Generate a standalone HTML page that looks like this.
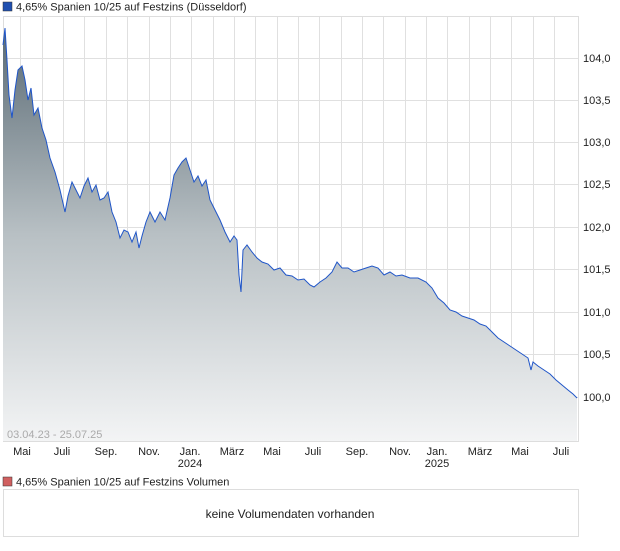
<!DOCTYPE html>
<html><head><meta charset="utf-8"><style>
body{margin:0;background:#fff;font-family:"Liberation Sans",sans-serif;}
</style></head><body>
<svg width="620" height="546" xmlns="http://www.w3.org/2000/svg" font-family="Liberation Sans, sans-serif">
<defs><linearGradient id="g" x1="0" y1="0" x2="0" y2="1">
<stop offset="0" stop-color="#5a6a74"/><stop offset="0.5" stop-color="#b8c0c4"/><stop offset="1" stop-color="#f3f4f5"/></linearGradient></defs>
<rect x="3" y="2" width="9" height="9" fill="#1f4fb0" stroke="#333" stroke-width="0.5"/>
<text x="16" y="10.5" font-size="11" fill="#222">4,65% Spanien 10/25 auf Festzins (Düsseldorf)</text>
<rect x="3.5" y="16.5" width="575" height="425" fill="#fff" stroke="#ddd"/>
<g stroke="#e0e0e0" stroke-width="1">
<line x1="3" y1="58.5" x2="578" y2="58.5"/><line x1="3" y1="100.5" x2="578" y2="100.5"/><line x1="3" y1="142.5" x2="578" y2="142.5"/><line x1="3" y1="184.5" x2="578" y2="184.5"/><line x1="3" y1="227.5" x2="578" y2="227.5"/><line x1="3" y1="269.5" x2="578" y2="269.5"/><line x1="3" y1="312.5" x2="578" y2="312.5"/><line x1="3" y1="354.5" x2="578" y2="354.5"/><line x1="3" y1="397.5" x2="578" y2="397.5"/>
<line x1="20.5" y1="17" x2="20.5" y2="441"/><line x1="42.5" y1="17" x2="42.5" y2="441"/><line x1="63.5" y1="17" x2="63.5" y2="441"/><line x1="84.5" y1="17" x2="84.5" y2="441"/><line x1="106.5" y1="17" x2="106.5" y2="441"/><line x1="127.5" y1="17" x2="127.5" y2="441"/><line x1="149.5" y1="17" x2="149.5" y2="441"/><line x1="170.5" y1="17" x2="170.5" y2="441"/><line x1="191.5" y1="17" x2="191.5" y2="441"/><line x1="213.5" y1="17" x2="213.5" y2="441"/><line x1="234.5" y1="17" x2="234.5" y2="441"/><line x1="255.5" y1="17" x2="255.5" y2="441"/><line x1="277.5" y1="17" x2="277.5" y2="441"/><line x1="298.5" y1="17" x2="298.5" y2="441"/><line x1="319.5" y1="17" x2="319.5" y2="441"/><line x1="341.5" y1="17" x2="341.5" y2="441"/><line x1="362.5" y1="17" x2="362.5" y2="441"/><line x1="383.5" y1="17" x2="383.5" y2="441"/><line x1="405.5" y1="17" x2="405.5" y2="441"/><line x1="426.5" y1="17" x2="426.5" y2="441"/><line x1="447.5" y1="17" x2="447.5" y2="441"/><line x1="469.5" y1="17" x2="469.5" y2="441"/><line x1="490.5" y1="17" x2="490.5" y2="441"/><line x1="511.5" y1="17" x2="511.5" y2="441"/><line x1="533.5" y1="17" x2="533.5" y2="441"/><line x1="554.5" y1="17" x2="554.5" y2="441"/>
</g>
<path d="M3,441 L3,45 5,28 7,60 9,95 12,118 15,90 18,70 22,66 25,80 28,100 31,88 34,115 38,108 42,128 46,140 50,158 55,172 60,190 65,212 68,196 72,182 76,190 80,198 84,186 88,178 92,192 96,185 100,200 104,198 108,192 112,212 116,222 120,238 124,230 128,232 132,242 136,232 139,248 142,236 146,222 150,212 155,222 160,212 165,220 170,198 174,175 178,168 182,162 186,158 190,170 194,182 198,176 202,186 206,180 210,200 215,210 220,220 225,232 230,242 234,236 237,240 239,275 241,292 243,250 247,245 252,252 257,258 262,262 268,264 274,270 280,268 286,275 292,276 298,280 304,279 310,285 314,287 320,282 326,278 332,272 337,262 342,268 348,268 354,272 360,270 366,268 372,266 378,268 384,275 390,272 396,276 402,275 410,278 418,278 426,282 432,288 438,298 444,303 450,310 456,312 462,316 468,318 474,320 480,324 486,326 492,332 498,338 504,342 510,346 516,350 522,354 528,358 531,370 533,362 538,366 544,370 550,374 556,380 562,385 568,390 573,394 577,398 L577,441 Z" fill="url(#g)"/>
<polyline fill="none" stroke="#1f55c8" stroke-width="1" points="3,45 5,28 7,60 9,95 12,118 15,90 18,70 22,66 25,80 28,100 31,88 34,115 38,108 42,128 46,140 50,158 55,172 60,190 65,212 68,196 72,182 76,190 80,198 84,186 88,178 92,192 96,185 100,200 104,198 108,192 112,212 116,222 120,238 124,230 128,232 132,242 136,232 139,248 142,236 146,222 150,212 155,222 160,212 165,220 170,198 174,175 178,168 182,162 186,158 190,170 194,182 198,176 202,186 206,180 210,200 215,210 220,220 225,232 230,242 234,236 237,240 239,275 241,292 243,250 247,245 252,252 257,258 262,262 268,264 274,270 280,268 286,275 292,276 298,280 304,279 310,285 314,287 320,282 326,278 332,272 337,262 342,268 348,268 354,272 360,270 366,268 372,266 378,268 384,275 390,272 396,276 402,275 410,278 418,278 426,282 432,288 438,298 444,303 450,310 456,312 462,316 468,318 474,320 480,324 486,326 492,332 498,338 504,342 510,346 516,350 522,354 528,358 531,370 533,362 538,366 544,370 550,374 556,380 562,385 568,390 573,394 577,398"/>
<text x="7" y="438" font-size="11" fill="#aaa">03.04.23 - 25.07.25</text>
<g font-size="11" fill="#222">
<text x="583" y="62">104,0</text><text x="583" y="104">103,5</text><text x="583" y="146">103,0</text><text x="583" y="188">102,5</text><text x="583" y="231">102,0</text><text x="583" y="273">101,5</text><text x="583" y="316">101,0</text><text x="583" y="358">100,5</text><text x="583" y="401">100,0</text>
</g>
<g font-size="11" fill="#222" text-anchor="middle">
<text x="22" y="455">Mai</text><text x="62" y="455">Juli</text><text x="106" y="455">Sep.</text><text x="149" y="455">Nov.</text><text x="190" y="455">Jan.</text><text x="190" y="467">2024</text><text x="232" y="455">März</text><text x="272" y="455">Mai</text><text x="313" y="455">Juli</text><text x="357" y="455">Sep.</text><text x="400" y="455">Nov.</text><text x="437" y="455">Jan.</text><text x="437" y="467">2025</text><text x="480" y="455">März</text><text x="520" y="455">Mai</text><text x="561" y="455">Juli</text>
</g>
<rect x="3" y="477" width="9" height="9" fill="#d06060" stroke="#333" stroke-width="0.5"/>
<text x="16" y="485.5" font-size="11" fill="#222">4,65% Spanien 10/25 auf Festzins Volumen</text>
<rect x="3.5" y="489.5" width="575" height="47" fill="#fff" stroke="#ddd"/>
<text x="290" y="518" font-size="12" fill="#222" text-anchor="middle">keine Volumendaten vorhanden</text>
</svg>
</body></html>
